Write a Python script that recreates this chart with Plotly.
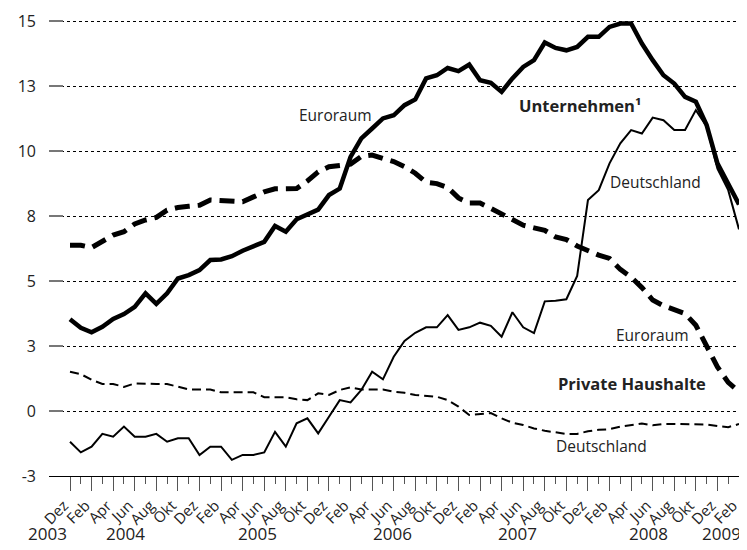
import plotly.graph_objects as go

# Month labels Dez 2003 .. Feb 2009
month_names = ["Jan", "Feb", "Mrz", "Apr", "Mai", "Jun", "Jul", "Aug", "Sep", "Okt", "Nov", "Dez"]
months = ["Dez"] + [month_names[k % 12] for k in range(62)]

unternehmen_euroraum = [3.53, 3.2, 3.03, 3.24, 3.54, 3.73, 4.01, 4.53, 4.12, 4.53,
                        5.1, 5.23, 5.42, 5.81, 5.83, 5.96, 6.17, 6.35, 6.51, 7.12,
                        6.9, 7.38, 7.55, 7.75, 8.31, 8.56, 9.78, 10.49, 10.87, 11.26,
                        11.38, 11.77, 11.99, 12.8, 12.92, 13.2, 13.08, 13.33, 12.73, 12.63,
                        12.28, 12.8, 13.24, 13.5, 14.18, 13.97, 13.88, 14.01, 14.4, 14.4,
                        14.78, 14.91, 14.91, 14.14, 13.5, 12.92, 12.6, 12.09, 11.9, 11.0,
                        9.53, 8.76, 7.95]

unternehmen_deutschland = [-1.18, -1.59, -1.37, -0.88, -0.99, -0.6, -0.99, -0.99, -0.88, -1.18,
                           -1.05, -1.05, -1.69, -1.37, -1.37, -1.88, -1.69, -1.69, -1.59, -0.8,
                           -1.37, -0.47, -0.28, -0.86, -0.22, 0.42, 0.33, 0.81, 1.51, 1.22,
                           2.09, 2.7, 3.01, 3.22, 3.22, 3.69, 3.12, 3.22, 3.4, 3.28,
                           2.86, 3.8, 3.22, 3.0, 4.22, 4.24, 4.3, 5.2, 8.12, 8.5,
                           9.53, 10.3, 10.81, 10.68, 11.29, 11.19, 10.81, 10.81, 11.58, 10.95,
                           9.33, 8.5, 6.99]

haushalte_euroraum = [6.38, 6.38, 6.29, 6.55, 6.77, 6.9, 7.2, 7.35, 7.45, 7.73,
                      7.83, 7.88, 7.92, 8.12, 8.1, 8.05, 8.05, 8.24, 8.43, 8.55,
                      8.56, 8.56, 8.85, 9.2, 9.4, 9.45, 9.5, 9.8, 9.85, 9.72,
                      9.6, 9.4, 9.15, 8.8, 8.75, 8.6, 8.2, 8.0, 8.0, 7.8,
                      7.6, 7.4, 7.15, 7.05, 6.95, 6.7, 6.6, 6.35, 6.15, 6.0,
                      5.87, 5.45, 5.15, 4.75, 4.27, 4.05, 3.9, 3.75, 3.3, 2.45,
                      1.7, 1.1, 0.74]

haushalte_deutschland = [1.51, 1.42, 1.2, 1.04, 1.04, 0.93, 1.06, 1.04, 1.04, 1.04,
                         0.93, 0.83, 0.83, 0.83, 0.72, 0.72, 0.72, 0.72, 0.53, 0.53,
                         0.53, 0.45, 0.42, 0.68, 0.62, 0.81, 0.91, 0.83, 0.83, 0.83,
                         0.74, 0.7, 0.62, 0.59, 0.55, 0.42, 0.17, -0.15, -0.12, -0.08,
                         -0.28, -0.45, -0.54, -0.67, -0.76, -0.83, -0.88, -0.88, -0.78, -0.72,
                         -0.7, -0.6, -0.55, -0.48, -0.55, -0.5, -0.5, -0.5, -0.5, -0.52,
                         -0.58, -0.62, -0.5]

y_tickvals = [-2.5, 0, 2.5, 5, 7.5, 10, 12.5, 15]
y_ticktext = ["-3", "0", "3", "5", "8", "10", "13", "15"]
years = ["2003", "2004", "2005", "2006", "2007", "2008", "2009"]

x = list(range(len(months)))
FONT = "Open Sans"
TXT = "#222222"

fig = go.Figure()
fig.add_trace(go.Scatter(x=x, y=haushalte_deutschland, mode="lines",
                         line=dict(color="black", width=2, dash="9px,5px")))
fig.add_trace(go.Scatter(x=x, y=haushalte_euroraum, mode="lines",
                         line=dict(color="black", width=5, dash="15px,8px")))
fig.add_trace(go.Scatter(x=x, y=unternehmen_deutschland, mode="lines",
                         line=dict(color="black", width=2)))
fig.add_trace(go.Scatter(x=x, y=unternehmen_euroraum, mode="lines",
                         line=dict(color="black", width=4.5)))

major = x[::2]
minor = x[1::2]

fig.update_xaxes(
    range=[-1.946, 62.74],
    tickmode="array", tickvals=major, ticktext=[months[i] for i in major],
    tickangle=-45, ticks="outside", ticklen=14, tickwidth=1, tickcolor="#555555",
    minor=dict(tickmode="array", tickvals=minor, ticks="outside", ticklen=7,
               tickwidth=1, tickcolor="#555555", showgrid=False),
    showline=True, linecolor="black", linewidth=1,
    showgrid=False, zeroline=False,
    ticklabelshift=-6,
    tickfont=dict(family=FONT, size=15, color=TXT),
)
fig.update_yaxes(
    range=[-2.5, 15.2],
    tickmode="array", tickvals=y_tickvals, ticktext=y_ticktext,
    ticks="inside", ticklen=14, tickwidth=1.5, tickcolor="#777777",
    showgrid=True, gridcolor="black", gridwidth=1, griddash="dot",
    zeroline=False, showline=False,
    ticklabelstandoff=12,
    tickfont=dict(family=FONT, size=16, color=TXT),
)

# year labels centred under each year's months (pixel centres in the reference)
year_px = [47, 125, 257, 392, 517, 648, 721]
for yr, px in zip(years, year_px):
    fig.add_annotation(x=(px - 49) / 698, y=-0.124, xref="paper", yref="paper", text=yr,
                       showarrow=False, xanchor="center", yanchor="middle",
                       font=dict(family=FONT, size=17, color=TXT))

labels = [
    ("Euroraum", 24.6, (411 - 115) / 26, False, 15.5),
    ("Unternehmen¹", 47.3, (411 - 105) / 26, True, 16.5),
    ("Deutschland", 54.3, (411 - 182) / 26, False, 15.5),
    ("Euroraum", 54.0, (411 - 335) / 26, False, 15.5),
    ("Private Haushalte", 52.1, (411 - 383) / 26, True, 16.5),
    ("Deutschland", 49.3, (411 - 446) / 26, False, 15.5),
]
for txt, lx, ly, bold, sz in labels:
    fig.add_annotation(x=lx, y=ly, text=("<b>%s</b>" % txt) if bold else txt,
                       showarrow=False, xanchor="center", yanchor="middle",
                       font=dict(family=FONT, size=sz, color=TXT))

# page body has an 8px margin: size the figure so the plot lands where the reference has it
fig.update_layout(
    width=739, height=542,
    margin=dict(l=41, r=0, t=7.8, b=74),
    paper_bgcolor="white", plot_bgcolor="white",
    showlegend=False,
)

fig.write_html("out.html")
